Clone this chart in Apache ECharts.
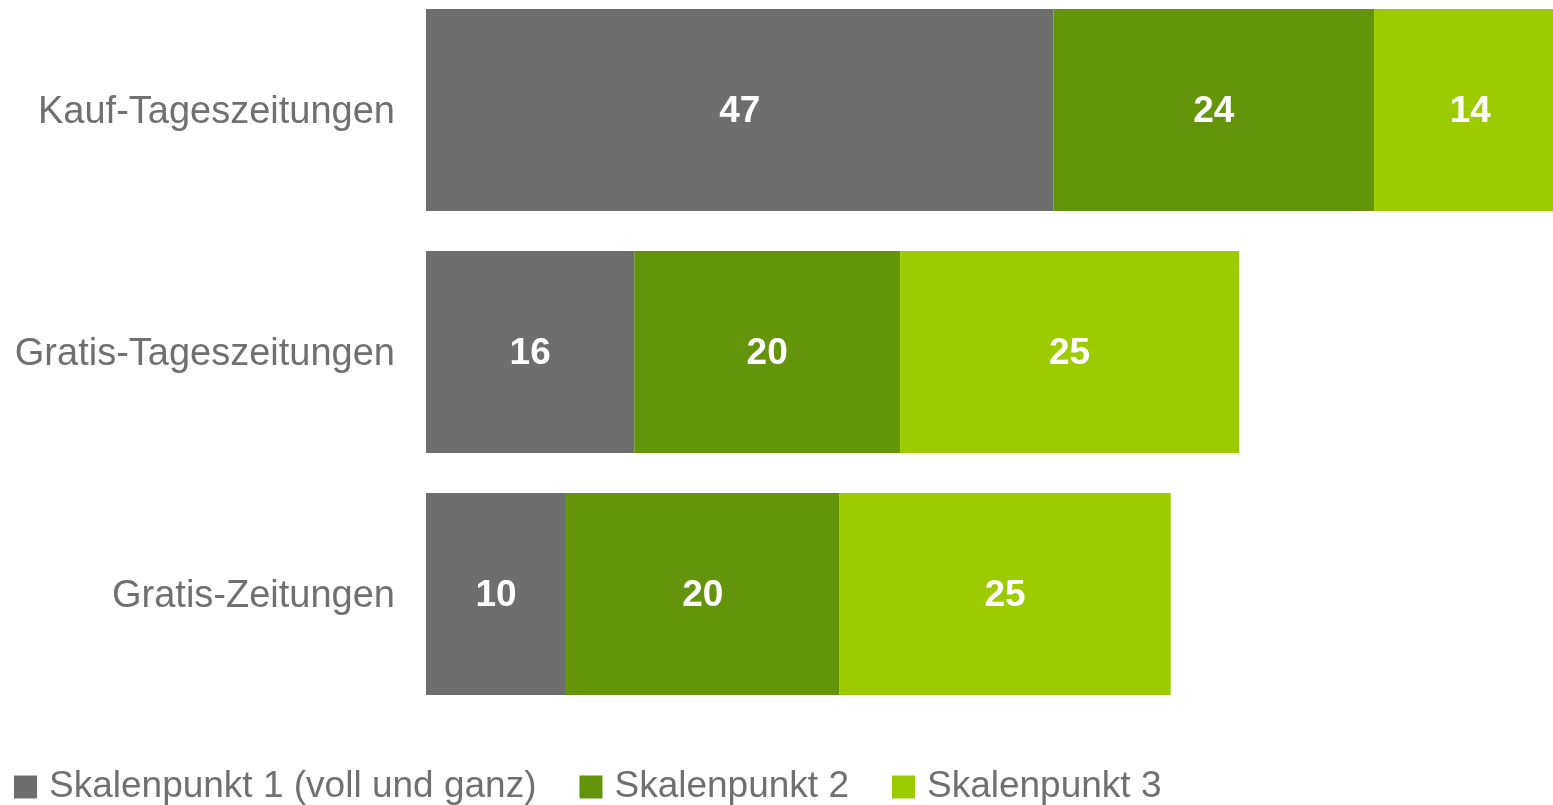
<!DOCTYPE html>
<html>
<head>
<meta charset="utf-8">
<script src="https://cdn.jsdelivr.net/npm/echarts@6/dist/echarts.min.js"></script>
<style>
html,body{margin:0;padding:0;background:#fff;}
#chart{width:1553px;height:805px;}
</style>
</head>
<body>
<div id="chart"></div>
<script>
var categories = ['Kauf-Tageszeitungen', 'Gratis-Tageszeitungen', 'Gratis-Zeitungen'];
var seriesNames = ['Skalenpunkt 1 (voll und ganz)', 'Skalenpunkt 2', 'Skalenpunkt 3'];
var skalenpunkt1 = [47.0, 15.6, 10.48];
var skalenpunkt2 = [24.0, 19.9, 20.49];
var skalenpunkt3 = [14.4, 25.4, 24.8];
var colors = ['#6E6E6E', '#63940A', '#9CCC00'];

var FONT = '"Liberation Sans", Arial, sans-serif';
var chart = echarts.init(document.getElementById('chart'), null, {renderer: 'canvas'});

function mk(name, data, color) {
  return {
    name: name,
    type: 'bar',
    stack: 'total',
    data: data,
    barWidth: 202,
    clip: false,
    itemStyle: {color: color},
    label: {
      show: true,
      position: 'inside',
      offset: [0, 2],
      color: '#ffffff',
      fontFamily: FONT,
      fontWeight: 'bold',
      fontSize: 37,
      formatter: function (p) { return Math.round(p.value); }
    },
    emphasis: {disabled: true}
  };
}

chart.setOption({
  animation: false,
  backgroundColor: '#ffffff',
  grid: {left: 426, right: 0, top: -11, height: 726, containLabel: false, outerBoundsMode: 'none'},
  xAxis: {
    type: 'value', min: 0, max: 84.4,
    show: false,
    splitLine: {show: false}
  },
  yAxis: {
    type: 'category',
    data: categories,
    inverse: true,
    axisLine: {show: false},
    axisTick: {show: false},
    axisLabel: {
      margin: 31,
      color: '#707070',
      fontFamily: FONT,
      fontSize: 38,
      formatter: function (v) { return '{a|' + v + '}'; },
      rich: {
        a: {
          color: '#707070',
          fontFamily: FONT,
          fontSize: 38,
          padding: [6, 0, 0, 0]
        }
      }
    }
  },
  legend: {
    left: 14,
    top: 766,
    padding: 0,
    itemWidth: 23,
    itemHeight: 23,
    itemGap: 43,
    icon: 'rect',
    data: seriesNames,
    textStyle: {
      color: '#707070',
      fontFamily: FONT,
      fontSize: 37,
      lineHeight: 42,
      padding: [0, 0, 0, 7]
    }
  },
  series: [
    mk(seriesNames[0], skalenpunkt1, colors[0]),
    mk(seriesNames[1], skalenpunkt2, colors[1]),
    mk(seriesNames[2], skalenpunkt3, colors[2])
  ]
});
</script>
</body>
</html>
